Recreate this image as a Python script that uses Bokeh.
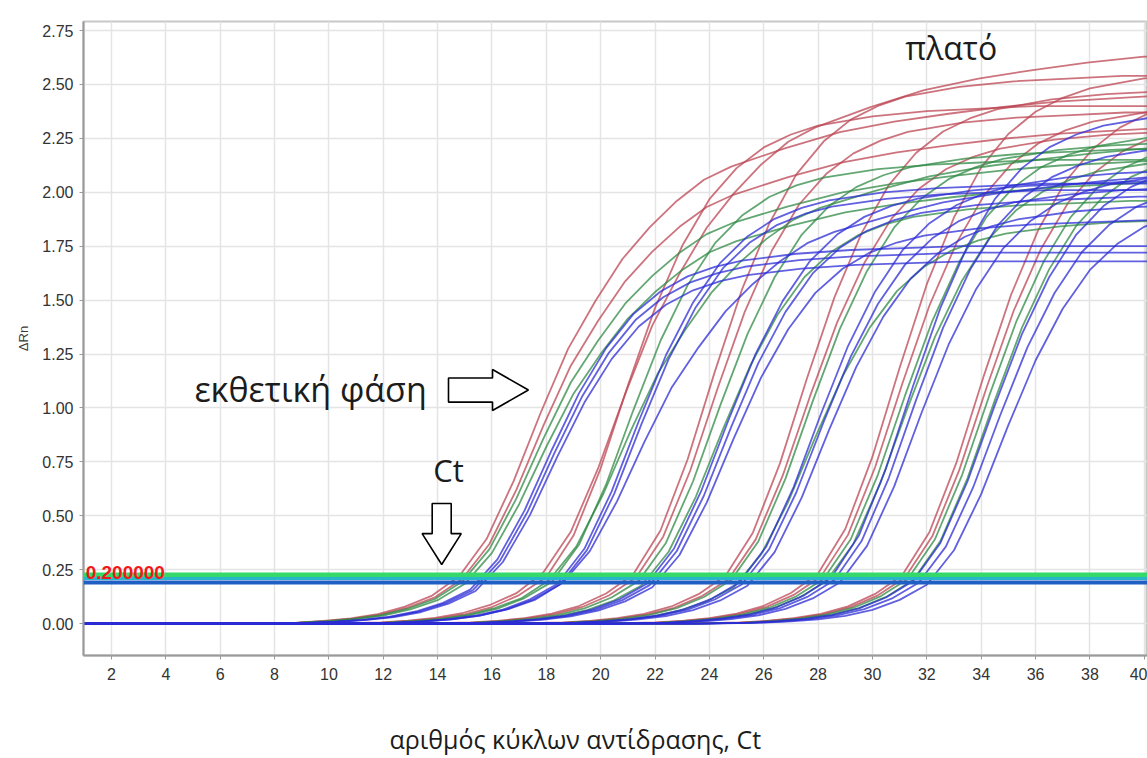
from bokeh.plotting import figure
from bokeh.models import (Range1d, Span, Label, FixedTicker, NumeralTickFormatter, ColumnDataSource, Title,
                          LinearAxis)
from bokeh.embed import file_html
from bokeh.resources import INLINE

# ---------------- data ----------------
x_ticks = [2, 4, 6, 8, 10, 12, 14, 16, 18, 20, 22, 24, 26, 28, 30, 32, 34, 36, 38, 40]
y_ticks = [0.0, 0.25, 0.5, 0.75, 1.0, 1.25, 1.5, 1.75, 2.0, 2.25, 2.5, 2.75]

# cycle offset from each curve's Ct and fraction of its plateau (two curve shapes)
shape_offsets = [-40, -8, -6, -5, -4, -3, -2, -1, 0, 1, 2, 3, 4, 5, 6, 7, 8, 9, 10, 12, 14, 16, 18, 20, 22, 26, 40]
shape_fast = [0, 0, 0.002, 0.005, 0.010, 0.018, 0.032, 0.055, 0.09, 0.17, 0.30, 0.46, 0.61, 0.73, 0.82, 0.88,
              0.92, 0.945, 0.962, 0.98, 0.99, 0.995, 1.0, 1.0, 1.0, 1.0, 1.0]
shape_slow = [0, 0, 0.002, 0.005, 0.010, 0.018, 0.032, 0.053, 0.09, 0.16, 0.27, 0.40, 0.52, 0.61, 0.69, 0.75,
              0.80, 0.84, 0.865, 0.90, 0.93, 0.95, 0.965, 0.978, 0.988, 1.0, 1.0]

# one entry per amplification curve
curve_dye = ["red", "red", "green", "green", "blue", "blue", "blue",
             "red", "red", "green", "green", "blue", "blue", "blue",
             "red", "red", "green", "green", "blue", "blue", "blue",
             "red", "red", "green", "green", "blue", "blue", "blue",
             "red", "red", "green", "green", "blue", "blue", "blue",
             "red", "red", "green", "green", "blue", "blue", "blue"]
curve_shape = ["slow", "slow", "slow", "slow", "fast", "fast", "fast",
               "slow", "fast", "slow", "fast", "fast", "fast", "slow",
               "fast", "fast", "fast", "fast", "fast", "fast", "fast",
               "fast", "fast", "fast", "fast", "fast", "fast", "fast",
               "fast", "fast", "fast", "fast", "fast", "fast", "fast",
               "fast", "fast", "fast", "fast", "fast", "fast", "fast"]
curve_ct = [14.8, 14.9, 14.9, 15.0, 15.2, 15.3, 15.4,
            17.9, 18.0, 18.1, 18.2, 18.4, 18.5, 18.6,
            21.2, 21.3, 21.4, 21.5, 21.7, 21.8, 21.9,
            24.6, 24.7, 24.8, 24.9, 25.1, 25.2, 25.4,
            28.0, 28.1, 28.2, 28.3, 28.5, 28.6, 28.8,
            31.1, 31.2, 31.3, 31.5, 31.5, 31.7, 32.0]
curve_plateau = [2.45, 2.30, 2.15, 2.05, 1.75, 1.72, 1.68,
                 2.66, 2.40, 2.23, 2.15, 2.04, 2.01, 2.10,
                 2.54, 2.37, 2.20, 1.96, 2.05, 1.98, 1.87,
                 2.48, 2.29, 2.24, 1.88, 2.11, 2.03, 1.95,
                 2.58, 2.42, 2.30, 2.18, 2.40, 2.25, 2.12,
                 2.50, 2.38, 2.30, 2.25, 2.20, 2.10, 2.00]

threshold_levels = [0.225, 0.209, 0.190]
threshold_colors = ["#34d96a", "#27b6c9", "#1f5fc4"]
threshold_widths = [5, 3, 4]
threshold_text = "0.200000"

dye_colors = {"red": "#bb4452", "green": "#2f8a44", "blue": "#2b2bd6"}

# ---------------- figure ----------------
p = figure(width=1147, height=758, x_range=Range1d(0.97, 40.12), y_range=Range1d(-0.148, 2.792),
           output_backend="svg", toolbar_location=None,
           min_border_left=83, min_border_right=0, min_border_top=21, min_border_bottom=103,
           background_fill_color="white", border_fill_color="white")
p.outline_line_color = "#c8c8c8"
p.outline_line_width = 2

tick_font = "Liberation Sans"
for ax in (p.xaxis[0], p.yaxis[0]):
    ax.major_label_text_font = tick_font
    ax.major_label_text_font_size = "16px"
    ax.major_label_text_color = "#333333"
    ax.axis_line_color = "#9a9a9a"
    ax.axis_line_width = 2
    ax.major_tick_line_color = "#9a9a9a"
    ax.major_tick_out = 4
    ax.major_tick_in = 0
    ax.minor_tick_line_color = None
p.xaxis.ticker = FixedTicker(ticks=x_ticks)
p.yaxis.ticker = FixedTicker(ticks=y_ticks)
p.yaxis.formatter = NumeralTickFormatter(format="0.00")
p.xaxis.major_label_standoff = 8
p.yaxis.major_label_standoff = 6
p.yaxis.axis_label = "ΔRn"
p.yaxis.axis_label_text_font = "Liberation Sans"
p.yaxis.axis_label_text_font_style = "normal"
p.yaxis.axis_label_text_font_size = "13px"
p.yaxis.axis_label_text_color = "#3a3a3a"
p.yaxis.axis_label_standoff = 8

p.xgrid.ticker = FixedTicker(ticks=x_ticks)
p.ygrid.ticker = FixedTicker(ticks=y_ticks)
p.grid.grid_line_color = "#e4e4e4"
p.grid.grid_line_width = 1.5

shapes = {"fast": shape_fast, "slow": shape_slow}
for dye in ("red", "green", "blue"):
    xs, ys = [], []
    for d, s, ct, pl in zip(curve_dye, curve_shape, curve_ct, curve_plateau):
        if d != dye:
            continue
        xs.append([ct + o for o in shape_offsets])
        ys.append([pl * f for f in shapes[s]])
    src = ColumnDataSource(data=dict(xs=xs, ys=ys))
    p.multi_line("xs", "ys", source=src, line_color=dye_colors[dye], line_width=1.8, line_alpha=0.75)

for lvl, col, w in zip(threshold_levels, threshold_colors, threshold_widths):
    p.add_layout(Span(location=lvl, dimension="width", line_color=col, line_width=w))

p.add_layout(Label(x=1.05, y=0.236, text=threshold_text, text_color="#f01818", text_font="Liberation Sans",
                   text_font_style="bold", text_font_size="19px", text_baseline="alphabetic", text_align="left"))

# ---------------- annotations ----------------
txt_font = "Open Sans"
txt_color = "#1c1c1c"
p.add_layout(Label(x=5.05, y=1.09, text="εκθετική φάση", text_font=txt_font, text_font_size="34px",
                   text_color=txt_color, text_baseline="middle", text_align="left"))
p.add_layout(Label(x=14.4, y=0.71, text="Ct", text_font=txt_font, text_font_size="31px",
                   text_color=txt_color, text_baseline="middle", text_align="center"))
p.add_layout(Label(x=32.9, y=2.67, text="πλατό", text_font=txt_font, text_font_size="32px",
                   text_color=txt_color, text_baseline="middle", text_align="center"))

# blank band between the tick labels and the x title (one white tick, no label)
spacer_tick = [20]
spacer = LinearAxis(ticker=FixedTicker(ticks=spacer_tick), axis_line_color=None,
                    major_tick_out=37, major_tick_in=0, major_tick_line_color="white",
                    minor_tick_out=0, minor_tick_in=0, minor_tick_line_color=None,
                    major_label_standoff=0, major_label_text_font_size="1px",
                    major_label_overrides={20: ""})
p.add_layout(spacer, "below")

x_title = Title(text="αριθμός κύκλων αντίδρασης, Ct", align="left", offset=306, standoff=0,
                vertical_align="bottom",
                text_font=txt_font, text_font_size="25px", text_font_style="normal", text_color=txt_color)
p.add_layout(x_title, "below")

# hollow block arrows (anchor, size in data units)
right_arrow_y = 1.083
right_arrow_x = [14.40, 16.02, 17.34]
down_arrow_x = 14.15
down_arrow_y = [0.557, 0.417, 0.274]
rx0, rx1, rx2 = right_arrow_x
p.patch([rx0, rx1, rx1, rx2, rx1, rx1, rx0],
        [right_arrow_y + 0.056, right_arrow_y + 0.056, right_arrow_y + 0.095, right_arrow_y,
         right_arrow_y - 0.095, right_arrow_y - 0.056, right_arrow_y - 0.056],
        fill_color="white", line_color="black", line_width=1.6)
dy0, dy1, dy2 = down_arrow_y
p.patch([down_arrow_x - 0.35, down_arrow_x + 0.35, down_arrow_x + 0.35, down_arrow_x + 0.72, down_arrow_x,
         down_arrow_x - 0.72, down_arrow_x - 0.35],
        [dy0, dy0, dy1, dy1, dy2, dy1, dy1],
        fill_color="white", line_color="black", line_width=1.6)

open("out.html", "w").write(file_html(p, INLINE))
